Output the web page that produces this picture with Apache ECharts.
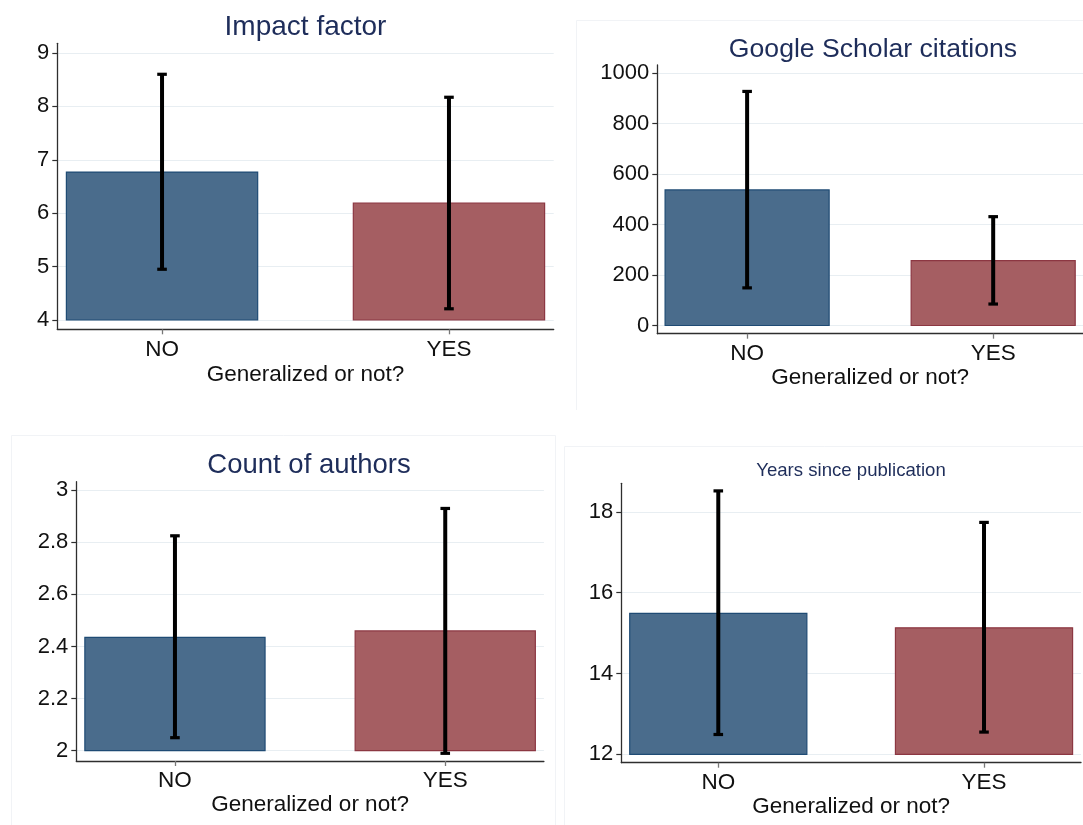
<!DOCTYPE html>
<html>
<head>
<meta charset="utf-8">
<script src="https://cdn.jsdelivr.net/npm/echarts@6/dist/echarts.min.js"></script>
<style>
  html, body { margin: 0; padding: 0; background: #ffffff; }
  #chart { width: 1083px; height: 825px; }
</style>
</head>
<body>
<div id="chart"></div>
<script>
// Groups on the horizontal axis
const groups = ['NO', 'YES'];
const xAxisTitle = 'Generalized or not?';

// Impact factor: mean and confidence bounds
const impactMean = [6.77, 6.19];
const impactLow = [4.95, 4.21];
const impactHigh = [8.6, 8.17];
const impactTicks = [4, 5, 6, 7, 8, 9];

// Google Scholar citations
const citeMean = [537, 257];
const citeLow = [149, 85];
const citeHigh = [927, 431];
const citeTicks = [0, 200, 400, 600, 800, 1000];

// Count of authors
const authorMean = [2.435, 2.46];
const authorLow = [2.05, 1.99];
const authorHigh = [2.825, 2.93];
const authorTicks = [2, 2.2, 2.4, 2.6, 2.8, 3];

// Years since publication
const yearsMean = [15.49, 15.13];
const yearsLow = [12.49, 12.55];
const yearsHigh = [18.52, 17.74];
const yearsTicks = [12, 14, 16, 18];

const FONT = '"Liberation Sans", Arial, Helvetica, sans-serif';
const TITLE_COLOR = '#1e2d5a';
const AXIS_COLOR = '#2e2e2e';
const GRID_COLOR = '#e8eef2';
const BAR_FILL = ['#4a6c8c', '#a55e62'];
const BAR_EDGE = ['#1f4b74', '#8c3742'];
const BAR_HALF = 1 / 3;     // half bar width in axis units
const CAP_HALF = 4.8;       // half cap width in px

const panels = [
  { title: 'Impact factor', titleX: 305.5, titleY: 25, titleSize: 28,
    mean: impactMean, low: impactLow, high: impactHigh, ticks: impactTicks, base: 4,
    yMin: 3.826, yMax: 9.18,
    grid: { left: 57.3, top: 43.3, width: 496.4, height: 286 }, nameGap: 33.5 },
  { title: 'Google Scholar citations', titleX: 873, titleY: 47.5, titleSize: 26.6,
    mean: citeMean, low: citeLow, high: citeHigh, ticks: citeTicks, base: 0,
    yMin: -32.5, yMax: 1031.7,
    grid: { left: 657.3, top: 65, width: 428.5, height: 268.7 }, nameGap: 29.5 },
  { title: 'Count of authors', titleX: 309, titleY: 463, titleSize: 27.5,
    mean: authorMean, low: authorLow, high: authorHigh, ticks: authorTicks, base: 2,
    yMin: 1.9605, yMax: 3.0327,
    grid: { left: 76.3, top: 481.7, width: 467.6, height: 279.3 }, nameGap: 31.5 },
  { title: 'Years since publication', titleX: 851, titleY: 469.5, titleSize: 18.6,
    mean: yearsMean, low: yearsLow, high: yearsHigh, ticks: yearsTicks, base: 12,
    yMin: 11.792, yMax: 18.708,
    grid: { left: 621.3, top: 483.3, width: 459.7, height: 279.4 }, nameGap: 30.5 }
];

const grid = [], xAxis = [], yAxis = [], title = [], series = [];

panels.forEach((p, k) => {
  grid.push(Object.assign({ containLabel: false }, p.grid));

  title.push({
    text: p.title,
    left: p.titleX,
    top: p.titleY - p.titleSize * 0.42,
    padding: 0,
    textAlign: 'center',
    textStyle: { fontFamily: FONT, fontSize: p.titleSize, fontWeight: 'normal', color: TITLE_COLOR }
  });

  xAxis.push({
    type: 'value', gridIndex: k, min: -0.365, max: 1.365,
    name: xAxisTitle, nameLocation: 'middle', nameGap: p.nameGap,
    nameTextStyle: { fontFamily: FONT, fontSize: 22.5, color: '#111' },
    axisLine: { show: true, onZero: false, lineStyle: { color: AXIS_COLOR, width: 1.3 } },
    axisTick: { show: true, length: 5, customValues: [0, 1], lineStyle: { color: '#777', width: 1.3 } },
    axisLabel: { customValues: [0, 1], margin: 8.5, fontFamily: FONT, fontSize: 22.5, color: '#111',
                 formatter: v => groups[Math.round(v)] },
    splitLine: { show: false }
  });

  yAxis.push({
    type: 'value', gridIndex: k, min: p.yMin, max: p.yMax,
    axisLine: { show: true, onZero: false, lineStyle: { color: AXIS_COLOR, width: 1.3 } },
    axisTick: { show: true, length: 5, customValues: p.ticks, lineStyle: { color: AXIS_COLOR, width: 1.2 } },
    axisLabel: { customValues: p.ticks, margin: 8, fontFamily: FONT, fontSize: 22, color: '#111',
                 formatter: v => String(v) },
    splitLine: { show: true, lineStyle: { color: GRID_COLOR, width: 1.2 } }
  });

  // Mean bars, drawn from the panel's base value up to the mean
  series.push({
    type: 'custom', xAxisIndex: k, yAxisIndex: k,
    data: groups.map((g, i) => [i, p.mean[i], p.base]),
    renderItem: (params, api) => {
      const i = api.value(0);
      const top = api.coord([i - BAR_HALF, api.value(1)]);
      const bot = api.coord([i + BAR_HALF, api.value(2)]);
      return {
        type: 'rect',
        shape: { x: top[0], y: top[1], width: bot[0] - top[0], height: bot[1] - top[1] },
        style: { fill: BAR_FILL[i], stroke: BAR_EDGE[i], lineWidth: 1.2 }
      };
    },
    silent: true
  });

  // Confidence interval whiskers
  series.push({
    type: 'custom', xAxisIndex: k, yAxisIndex: k,
    data: groups.map((g, i) => [i, p.low[i], p.high[i]]),
    renderItem: (params, api) => {
      const lo = api.coord([api.value(0), api.value(1)]);
      const hi = api.coord([api.value(0), api.value(2)]);
      const st = { stroke: '#000', lineWidth: 4 };
      const cap = { stroke: '#000', lineWidth: 3.2 };
      return {
        type: 'group',
        children: [
          { type: 'line', shape: { x1: lo[0], y1: lo[1], x2: hi[0], y2: hi[1] }, style: st },
          { type: 'line', shape: { x1: lo[0] - CAP_HALF, y1: lo[1], x2: lo[0] + CAP_HALF, y2: lo[1] }, style: cap },
          { type: 'line', shape: { x1: hi[0] - CAP_HALF, y1: hi[1], x2: hi[0] + CAP_HALF, y2: hi[1] }, style: cap }
        ]
      };
    },
    silent: true, z: 3
  });
});

const chart = echarts.init(document.getElementById('chart'), null, { renderer: 'canvas' });
chart.setOption({
  animation: false,
  backgroundColor: '#ffffff',
  title, grid, xAxis, yAxis, series,
  graphic: [
    // faint outlines around the individual graph regions
    { type: 'polyline', silent: true, shape: { points: [[576.5, 410], [576.5, 20.5], [1090, 20.5]] },
      style: { stroke: '#f1f3f6', fill: null, lineWidth: 1 } },
    { type: 'polyline', silent: true, shape: { points: [[11.5, 830], [11.5, 435.5], [555.5, 435.5], [555.5, 830]] },
      style: { stroke: '#f1f3f6', fill: null, lineWidth: 1 } },
    { type: 'polyline', silent: true, shape: { points: [[564.5, 830], [564.5, 446.5], [1090, 446.5]] },
      style: { stroke: '#f1f3f6', fill: null, lineWidth: 1 } }
  ]
});
</script>
</body>
</html>
